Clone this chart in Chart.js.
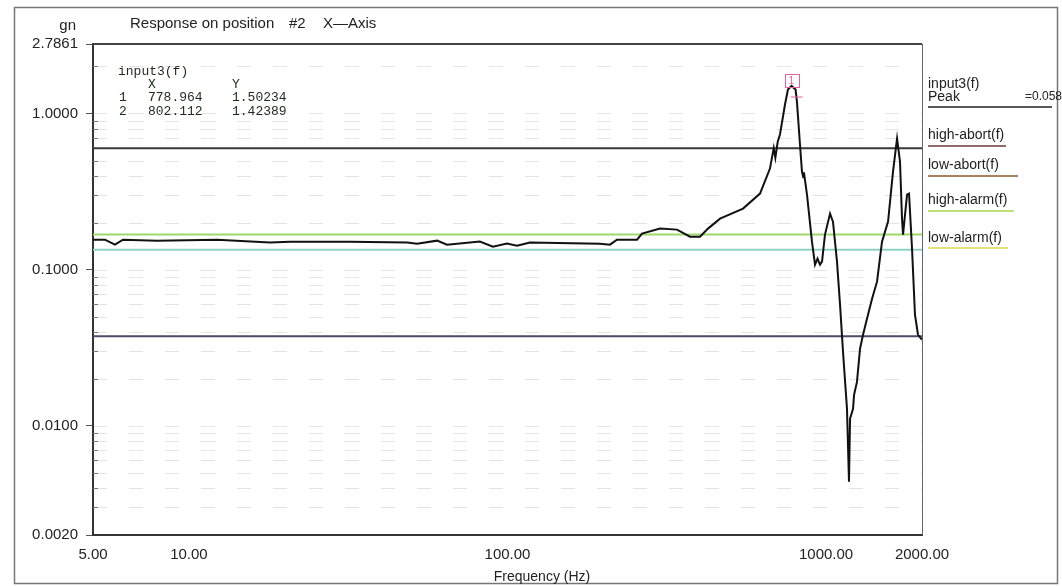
<!DOCTYPE html>
<html>
<head>
<meta charset="utf-8">
<title>Response on position #2</title>
<script src="https://cdn.jsdelivr.net/npm/chart.js@4.4.1/dist/chart.umd.min.js"></script>
<style>
html, body { margin: 0; padding: 0; background: #fff; }
#contenedor { width: 1062px; height: 586px; position: relative; }
</style>
</head>
<body>
<div id="contenedor"><canvas id="graficoRespuesta"></canvas></div>
<script>
//Datos
var freqHz = [5.00, 5.45, 5.86, 6.21, 7.94, 12.25, 17.97, 20.77, 32.0, 48.4, 52.0, 60.1, 64.6, 81.9, 90.0, 99.6,
    107.1, 117.6, 195.1, 209.7, 220.6, 255.0, 264.4, 301.1, 340.4, 374.0, 402.0, 425.9, 464.6, 548.6, 620.3,
    666.5, 685, 693, 705, 716.5, 743, 759, 778.964, 802.112, 810, 828, 840, 848, 852, 871, 903, 923, 940, 957,
    971, 992, 1029, 1051, 1082, 1106, 1130, 1163, 1180, 1189, 1215, 1224, 1250, 1278, 1306, 1344, 1394, 1445,
    1498, 1565, 1622, 1670, 1706, 1731, 1744, 1795, 1821, 1861, 1901, 1943, 2000];
var input3 = [0.1557, 0.1557, 0.1446, 0.1557, 0.1534, 0.1557, 0.1490, 0.1512, 0.1512, 0.1490, 0.1468, 0.1534,
    0.1446, 0.1512, 0.1404, 0.1468, 0.1425, 0.1490, 0.1468, 0.1446, 0.1557, 0.1557, 0.1701, 0.1832, 0.1805,
    0.1627, 0.1627, 0.1832, 0.2123, 0.2460, 0.3070, 0.4440, 0.60, 0.52, 0.66, 0.7334, 1.142, 1.425, 1.50234,
    1.42389, 1.19, 0.6327, 0.4248, 0.39, 0.42, 0.3026, 0.151, 0.1077, 0.1176, 0.1077, 0.1125, 0.1677, 0.2286,
    0.2031, 0.1125, 0.0597, 0.0298, 0.01285, 0.00438, 0.0111, 0.01285, 0.0158, 0.0191, 0.0312, 0.0383, 0.0485,
    0.0652, 0.0838, 0.151, 0.2031, 0.4248, 0.6915, 0.4924, 0.2123, 0.1677, 0.3026, 0.3070, 0.1363, 0.0515,
    0.0383, 0.0356];

var limitFreq = [5, 2000];
var highAbort = [0.6, 0.6];
var lowAbort = [0.0375, 0.0375];
var highAlarm = [0.168, 0.168];
var lowAlarm = [0.134, 0.134];

var cursorFreq = [778.964, 802.112];
var cursorGn = [1.50234, 1.42389];

var ticksX = [5, 10, 100, 1000, 2000];
var labelsX = ['5.00', '10.00', '100.00', '1000.00', '2000.00'];
var ticksY = [0.002, 0.01, 0.1, 1, 2.7861];
var labelsY = ['0.0020', '0.0100', '0.1000', '1.0000', '2.7861'];

var fuente = '"Liberation Sans", Arial, sans-serif';

//Lineas menores del eje Y (2..9 de cada decada)
var minorY = [];
for (var e = -3; e <= 0; e++) {
    for (var k = 1; k <= 9; k++) {
        var v = k * Math.pow(10, e);
        if (v > 0.002 && v < 2.7861 && ticksY.indexOf(v) < 0) minorY.push(v);
    }
}

function toPoints(xs, ys) {
    return xs.map(function (x, i) { return { x: x, y: ys[i] }; });
}

//Textos, marco, leyenda y cursores
var extrasGrafico = {
    id: 'extrasGrafico',
    beforeDatasetsDraw: function (chart) {
        var ctx = chart.ctx, area = chart.chartArea, sy = chart.scales.y;
        ctx.save();
        ctx.strokeStyle = 'rgba(0,0,0,0.11)';
        ctx.lineWidth = 1;
        ctx.setLineDash([14, 22]);
        minorY.concat(ticksY.slice(1, 4)).forEach(function (v) {
            var py = Math.round(sy.getPixelForValue(v)) + 0.5;
            ctx.beginPath();
            ctx.moveTo(area.left, py);
            ctx.lineTo(area.right, py);
            ctx.stroke();
        });
        //marcas menores hacia dentro
        ctx.setLineDash([]);
        ctx.strokeStyle = '#777';
        minorY.forEach(function (v) {
            var py = Math.round(sy.getPixelForValue(v)) + 0.5;
            ctx.beginPath();
            ctx.moveTo(area.left, py);
            ctx.lineTo(area.left + 5, py);
            ctx.stroke();
        });
        ctx.restore();
    },
    afterDraw: function (chart) {
        var ctx = chart.ctx, area = chart.chartArea;
        var sx = chart.scales.x, sy = chart.scales.y;
        ctx.save();

        //marco exterior
        ctx.strokeStyle = '#777';
        ctx.lineWidth = 1.5;
        ctx.strokeRect(14.5, 7.5, 1043, 576);

        //borde superior y derecho del area
        ctx.strokeStyle = '#444';
        ctx.lineWidth = 2;
        ctx.beginPath();
        ctx.moveTo(area.left, area.top);
        ctx.lineTo(area.right, area.top);
        ctx.stroke();
        ctx.strokeStyle = '#666';
        ctx.lineWidth = 1;
        ctx.beginPath();
        ctx.moveTo(area.right + 0.5, area.top);
        ctx.lineTo(area.right + 0.5, area.bottom);
        ctx.stroke();

        //titulos
        ctx.fillStyle = '#222';
        ctx.textBaseline = 'middle';
        ctx.font = '15px ' + fuente;
        ctx.textAlign = 'right';
        ctx.fillText('gn', 76, 26);
        ctx.textAlign = 'left';
        ctx.fillText('Response on position', 130, 24);
        ctx.fillText('#2', 289, 24);
        ctx.fillText('X\u2014Axis', 323, 24);
        ctx.textAlign = 'center';
        ctx.font = '14px ' + fuente;
        ctx.fillText('Frequency (Hz)', 542, 577);

        //cuadro de cursores
        ctx.textAlign = 'left';
        ctx.font = '13px "Liberation Mono", "DejaVu Sans Mono", monospace';
        ctx.fillStyle = '#1e2a1e';
        ctx.fillText('input3(f)', 118, 72);
        ctx.fillText('X', 148, 85);
        ctx.fillText('Y', 232, 85);
        for (var i = 0; i < cursorFreq.length; i++) {
            var ry = 98 + i * 14;
            ctx.fillText(String(i + 1), 119, ry);
            ctx.fillText(cursorFreq[i].toFixed(3), 148, ry);
            ctx.fillText(cursorGn[i].toFixed(5), 232, ry);
        }

        //marcador del cursor
        var px = sx.getPixelForValue(cursorFreq[0]);
        var py = sy.getPixelForValue(cursorGn[0]);
        ctx.strokeStyle = '#e0629c';
        ctx.lineWidth = 1;
        ctx.strokeRect(Math.round(px) - 6.5, Math.round(py) - 11.5, 14, 13);
        ctx.fillStyle = '#e0629c';
        ctx.font = '10px ' + fuente;
        ctx.fillText('1', px - 3, py - 5);
        var px2 = sx.getPixelForValue(cursorFreq[1]);
        var py2 = sy.getPixelForValue(cursorGn[1]);
        ctx.beginPath();
        ctx.moveTo(px2 - 5, py2 + 7.5);
        ctx.lineTo(px2 + 7, py2 + 7.5);
        ctx.stroke();

        //leyenda derecha
        var leyenda = [
            { t: 'input3(f)', y: 84, uy: null },
            { t: 'Peak', y: 97, uy: 107, c: '#222', w: 124, v: '=0.058' },
            { t: 'high-abort(f)', y: 135, uy: 146, c: '#6b3a3a', w: 78 },
            { t: 'low-abort(f)', y: 165, uy: 176, c: '#8a5a30', w: 90 },
            { t: 'high-alarm(f)', y: 200, uy: 211, c: '#a6d64e', w: 86 },
            { t: 'low-alarm(f)', y: 238, uy: 248, c: '#d8d84a', w: 80 }
        ];
        leyenda.forEach(function (it) {
            ctx.fillStyle = '#222';
            ctx.textAlign = 'left';
            ctx.font = '14px ' + fuente;
            ctx.fillText(it.t, 928, it.y);
            if (it.v) {
                ctx.font = '12px ' + fuente;
                ctx.fillText(it.v, 1025, it.y);
            }
            if (it.uy) {
                ctx.strokeStyle = it.c;
                ctx.lineWidth = 1.5;
                ctx.beginPath();
                ctx.moveTo(928, it.uy);
                ctx.lineTo(928 + it.w, it.uy);
                ctx.stroke();
            }
        });

        ctx.restore();
    }
};

var getGrafico = document.getElementById('graficoRespuesta');
var grafico = new Chart(getGrafico, {
    type: 'line',
    plugins: [extrasGrafico],
    data: {
        datasets: [
            { label: 'input3(f)', data: toPoints(freqHz, input3), borderColor: '#111', borderWidth: 2, order: 0 },
            { label: 'high-abort(f)', data: toPoints(limitFreq, highAbort), borderColor: '#3a3a3a', borderWidth: 2, order: 1 },
            { label: 'low-abort(f)', data: toPoints(limitFreq, lowAbort), borderColor: '#4e4a6a', borderWidth: 2, order: 1 },
            { label: 'high-alarm(f)', data: toPoints(limitFreq, highAlarm), borderColor: '#9fd86a', borderWidth: 2, order: 1 },
            { label: 'low-alarm(f)', data: toPoints(limitFreq, lowAlarm), borderColor: '#8fd2c2', borderWidth: 2, order: 1 }
        ]
    },
    options: {
        responsive: true,
        maintainAspectRatio: false,
        animation: false,
        parsing: false,
        elements: {
            point: { radius: 0 },
            line: { tension: 0, fill: false }
        },
        layout: {
            padding: { top: 44, right: 140, left: 0, bottom: 0 }
        },
        scales: {
            x: {
                type: 'logarithmic',
                min: 5,
                max: 2000,
                afterBuildTicks: function (scale) {
                    scale.ticks = ticksX.map(function (v) { return { value: v }; });
                },
                afterFit: function (scale) { scale.height = 51; },
                grid: { display: true, drawOnChartArea: false, drawTicks: false },
                border: { display: true, color: '#333', width: 2 },
                ticks: {
                    autoSkip: false,
                    maxRotation: 0,
                    padding: 11,
                    color: '#222',
                    font: { family: fuente, size: 15 },
                    callback: function (value, index) { return labelsX[index]; }
                }
            },
            y: {
                type: 'logarithmic',
                min: 0.002,
                max: 2.7861,
                afterBuildTicks: function (scale) {
                    scale.ticks = ticksY.concat(minorY).map(function (v) { return { value: v }; });
                },
                afterFit: function (scale) { scale.width = 93; },
                grid: {
                    display: true,
                    drawOnChartArea: false,
                    drawTicks: true,
                    tickLength: 7,
                    tickColor: function (c) { return c.index < labelsY.length ? '#555' : 'rgba(0,0,0,0)'; }
                },
                border: { display: true, color: '#333', width: 2 },
                ticks: {
                    autoSkip: false,
                    padding: 8,
                    color: '#222',
                    font: { family: fuente, size: 15 },
                    callback: function (value, index) {
                        return index < labelsY.length ? labelsY[index] : '';
                    }
                }
            }
        },
        plugins: {
            legend: { display: false },
            title: { display: false },
            tooltip: { enabled: false }
        }
    }
});
</script>
</body>
</html>
